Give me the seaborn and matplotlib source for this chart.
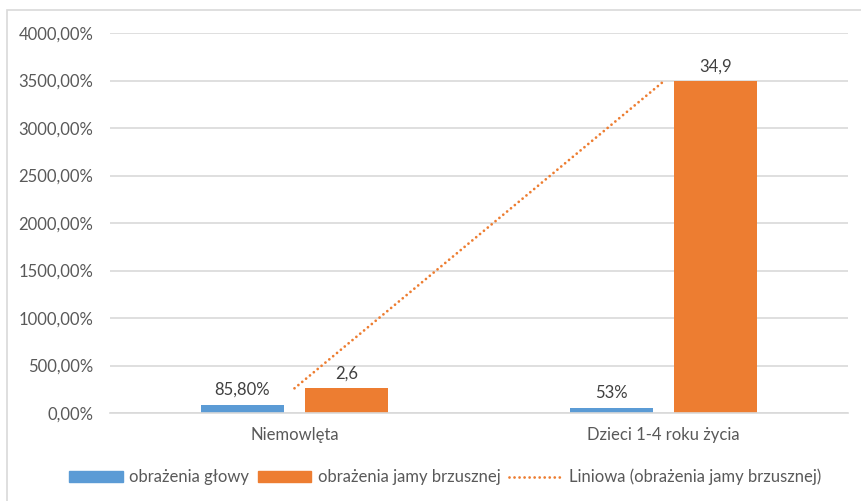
import numpy as np
import pandas as pd
import matplotlib
matplotlib.use("Agg")
import matplotlib.pyplot as plt
import seaborn as sns
from matplotlib.ticker import FuncFormatter
from matplotlib.patches import Rectangle, Patch
from matplotlib.lines import Line2D

categories = ["Niemowlęta", "Dzieci 1-4 roku życia"]
series_names = ["obrażenia głowy", "obrażenia jamy brzusznej"]
head_values = [0.858, 0.53]
abdomen_values = [2.6, 34.9]
head_labels = ["85,80%", "53%"]
abdomen_labels = ["2,6", "34,9"]
trend_name = "Liniowa (obrażenia jamy brzusznej)"
y_ticks = [0, 5, 10, 15, 20, 25, 30, 35, 40]

BLUE = "#5B9BD5"
ORANGE = "#ED7D31"
TEXT = "#595959"
GRID = "#D9D9D9"
FS = 12

sns.set_theme(style="white")
plt.rcParams["font.family"] = ["Lato", "DejaVu Sans"]

df = pd.DataFrame({
    "cat": categories * 2,
    "series": [series_names[0]] * 2 + [series_names[1]] * 2,
    "value": head_values + abdomen_values,
})

fig = plt.figure(figsize=(8.61, 5.01), dpi=100)
ax = fig.add_axes([110 / 861, 1 - 413 / 501, (848 - 110) / 861, (413 - 33) / 501])

sns.barplot(data=df, x="cat", y="value", hue="series", order=categories,
            hue_order=series_names, palette=[BLUE, ORANGE], width=0.564,
            gap=0.2, ax=ax, legend=False, saturation=1, linewidth=0)

# linear trendline through abdomen series
xs = np.arange(len(categories))
coef = np.polyfit(xs, abdomen_values, 1)
ax.plot(xs, np.polyval(coef, xs), color=ORANGE, lw=2.0,
        linestyle=(0, (0.01, 1.8)), dash_capstyle="round", zorder=3)

# data labels
for container, labels in zip(ax.containers, [head_labels, abdomen_labels]):
    for bar, lab in zip(container, labels):
        ax.annotate(lab, (bar.get_x() + bar.get_width() / 2, bar.get_height()),
                    xytext=(0, 5), textcoords="offset points", ha="center",
                    va="bottom", fontsize=FS, color="#404040")

ax.set_ylim(0, 40)
ax.set_xlim(-0.5, 1.5)
ax.set_yticks(y_ticks)
ax.yaxis.set_major_formatter(FuncFormatter(lambda v, p: f"{v * 100:.2f}%".replace(".", ",")))
ax.grid(axis="y", color=GRID, lw=1.2)
ax.set_axisbelow(True)
for s in ["top", "right", "left"]:
    ax.spines[s].set_visible(False)
ax.spines["bottom"].set_color(GRID)
ax.spines["bottom"].set_linewidth(1.2)
ax.tick_params(axis="both", length=0, colors=TEXT, labelsize=FS)
ax.tick_params(axis="y", pad=12)
ax.tick_params(axis="x", pad=10)
ax.set_xlabel("")
ax.set_ylabel("")

handles = [Patch(color=BLUE), Patch(color=ORANGE),
           Line2D([0], [0], color=ORANGE, lw=2.0, linestyle=(0, (0.01, 1.8)),
                  dash_capstyle="round")]
leg = fig.legend(handles, series_names + [trend_name], loc="center",
                 bbox_to_anchor=(445 / 861, 1 - 477 / 501), ncol=3, frameon=False,
                 fontsize=FS, handlelength=3.2, handleheight=0.6,
                 handletextpad=0.4, columnspacing=0.5)
for t in leg.get_texts():
    t.set_color(TEXT)

# chart border
fig.add_artist(Rectangle((7 / 861, -0.1), 1.2, 1 - 10 / 501 + 0.1,
                         transform=fig.transFigure, fill=False,
                         edgecolor=GRID, lw=1.2))

fig.savefig("out.png", dpi=100)
